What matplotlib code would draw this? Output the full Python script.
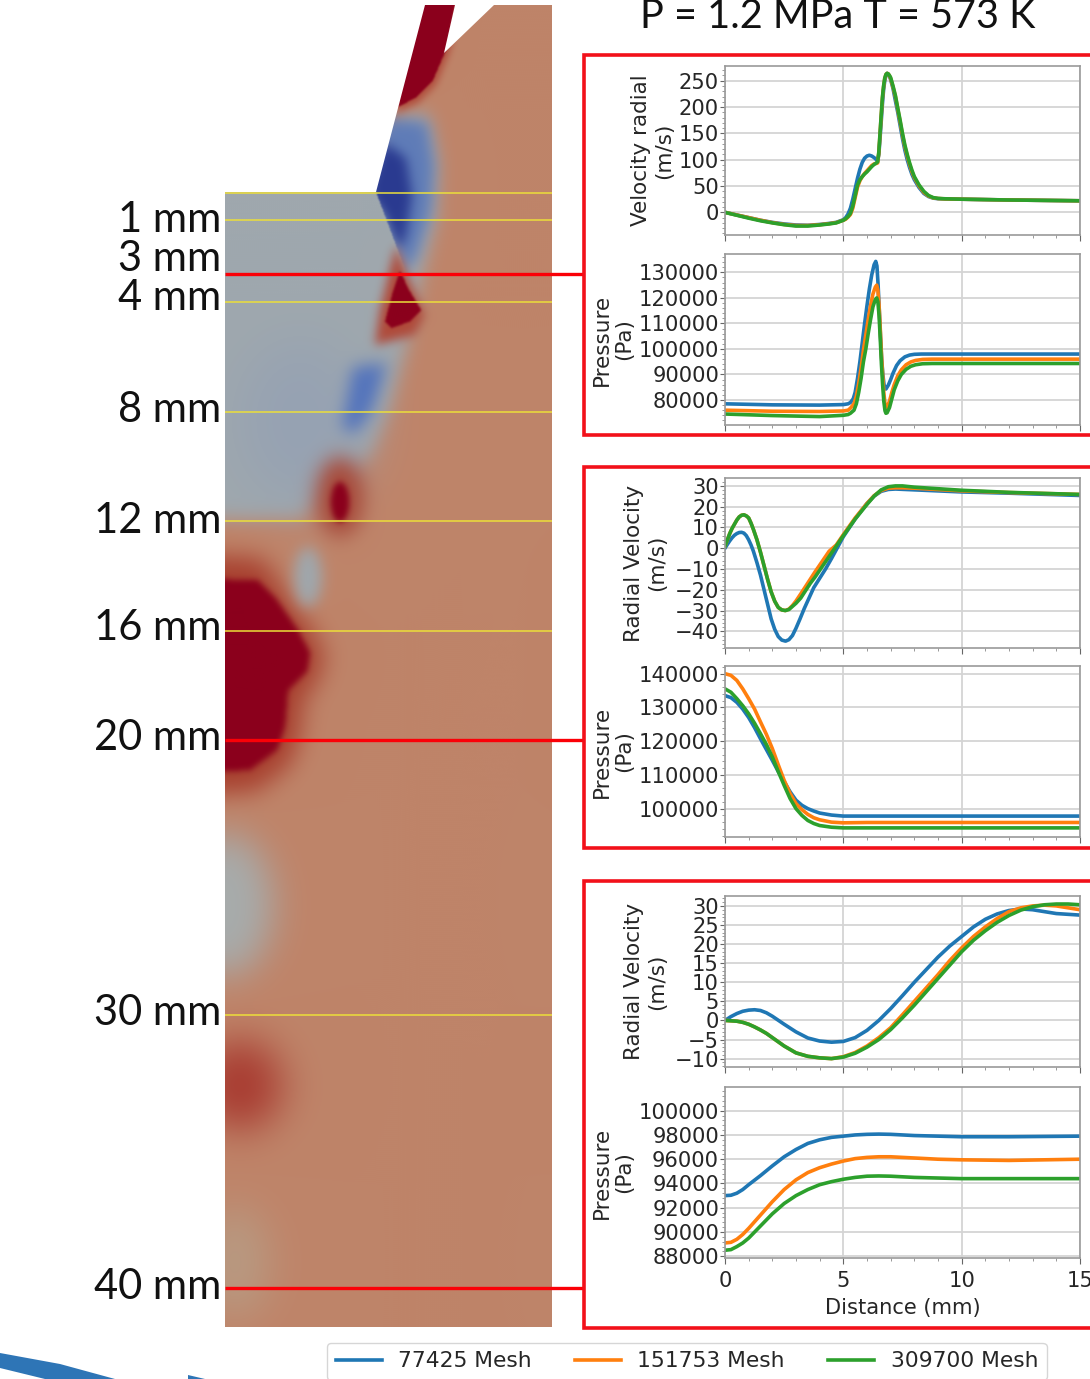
import numpy as np
import matplotlib
matplotlib.use('Agg')
import matplotlib.pyplot as plt
from matplotlib.path import Path
from matplotlib.patches import Polygon
from matplotlib.colors import to_rgb
from matplotlib.ticker import AutoMinorLocator, MultipleLocator

W, H = 1090, 1379
BLUE, ORANGE, GREEN = '#1f77b4', '#ff7f0e', '#2ca02c'
series_names = ['77425 Mesh', '151753 Mesh', '309700 Mesh']

# ---- panel 1: radial velocity, first section
v1_x = [0,0.5,1,1.5,2,2.5,3,3.5,4,4.4,4.7,5,5.1,5.2,5.3,5.4,5.5,5.6,5.7,5.8,5.9,6,6.1,6.2,6.3,6.4,6.45,6.5,6.55,6.6,6.65,6.7,6.75,6.8,6.85,6.9,6.95,7,7.1,7.2,7.3,7.4,7.5,7.6,7.7,7.8,7.9,8,8.2,8.4,8.6,8.8,9,9.3,10,12,15]
v1_y_blue = [0,-5,-10,-15,-19,-22,-24,-24.5,-23,-21,-19,-14,-10,-3,8,25,45,65,82,95,103,107,108.5,107,104,100,98,110,140,172,205,232,250,260,264,262,258,252,235,212,190,165,140,118,100,85,72,62,47,36,30,27,26,25.5,25,23.5,22]
v1_y_orange = [0,-5,-10,-15,-19.5,-23,-25,-25,-23.5,-21.5,-19.5,-15,-13,-9,-4,8,28,48,60,68,74,79,84,89,92,93,94,113,148,183,216,238,254,262,264,263,259,254,238,220,196,172,147,125,107,91,77,66,50,38,31,27.5,26.3,25.6,25,23.5,22]
v1_y_green = [0,-5.5,-11,-16,-20,-23.5,-26,-26,-24,-22,-20,-15,-12,-8,-2,12,32,52,62,68,73,77,82,87,91,94,96,115,150,185,218,240,255,262,264,263,260,256,240,222,198,175,150,128,110,94,80,68,52,40,32,28,26.5,25.8,25,23.5,22]

# ---- panel 2: pressure, first section
p1_x_blue = [0,2,4,5,5.2,5.3,5.42,5.5,5.6,5.7,5.8,5.9,6,6.1,6.2,6.3,6.37,6.42,6.47,6.52,6.57,6.62,6.67,6.72,6.76,6.8,6.9,7,7.1,7.25,7.4,7.6,7.8,8,8.3,8.7,10,15]
p1_y_blue = [78500,78100,78000,78200,78500,79000,80500,83000,88500,95000,102500,110000,117000,123500,129000,133000,134300,132500,125000,115000,105000,96000,90000,86000,84400,84300,85800,88000,90500,93500,95400,96900,97600,97900,98000,98000,98000,98000]
p1_x_other = [0,2,4,5,5.2,5.3,5.45,5.55,5.65,5.75,5.85,5.95,6.05,6.15,6.25,6.35,6.41,6.46,6.51,6.56,6.61,6.66,6.71,6.76,6.8,6.85,6.95,7.05,7.15,7.3,7.45,7.65,7.85,8.05,8.35,8.75,10,15]
p1_y_orange = [76000,75600,75500,75700,76000,76800,78500,81500,86500,92500,99500,105500,111500,117000,121500,124200,125000,123000,117000,108000,98000,90000,83000,78500,77000,77300,79500,83000,86000,89500,91800,93800,94900,95500,95900,96000,96000,96000]
p1_y_green = [74500,73900,73500,74000,74300,74800,76000,78500,83000,88500,95000,100000,106000,111500,116500,119300,120000,118500,113000,104000,94000,86000,79500,75800,74800,75000,77000,80500,84000,87500,90000,92000,93200,93800,94200,94300,94300,94300]

# ---- panel 3: radial velocity, 20 mm
v2_x_blue = [0,0.1,0.2,0.3,0.4,0.5,0.6,0.7,0.8,0.9,1,1.1,1.2,1.35,1.5,1.65,1.8,1.95,2.1,2.25,2.4,2.56,2.7,2.85,3,3.17,3.35,3.55,3.75,4,4.25,4.5,5,5.5,6,6.3,6.6,6.9,7.2,8,10,12,15]
v2_y_blue = [0,1.8,3.5,5,6.2,7,7.5,7.6,7.2,6,4,1.5,-1.5,-7,-13,-20,-27,-34,-39,-42.5,-44.2,-44.7,-44,-42,-38.5,-34,-29,-24,-19,-14.5,-10,-5,5.5,14,21.5,25,27.3,28.2,28.4,28,27,26.4,25.3]
v2_x_other = [0,0.1,0.2,0.3,0.4,0.5,0.6,0.7,0.8,0.9,1,1.1,1.2,1.35,1.5,1.65,1.8,1.95,2.1,2.25,2.4,2.55,2.7,2.85,3,3.2,3.4,3.6,3.8,4.1,4.4,4.7,5,5.5,6,6.3,6.6,6.9,7.2,7.5,8,10,12,15]
v2_y_orange = [1,4,7,9.5,11.5,13.5,15,15.8,16,15.5,14.5,12,9,4,-2,-8.5,-15,-21,-25.5,-28.5,-29.7,-30,-29.3,-27.6,-25.4,-22,-18.5,-15,-11.5,-6.5,-1.5,1.5,6.5,14.5,21.5,25.2,27.7,28.8,29,29,28.8,27.5,26.7,25.8]
v2_y_green = [1,4,7,9.5,11.5,13.5,15,15.8,16,15.5,14.5,12,9,4,-2,-8.5,-15,-21,-25.5,-28.5,-29.7,-30,-29.5,-28,-26.5,-24,-20.5,-17,-14,-9,-4,1,6,14,21,25,28,29.5,29.9,29.9,29.3,27.8,26.8,25.8]

# ---- panel 4: pressure, 20 mm
p2_x = [0,.25,.5,.75,1,1.25,1.5,1.75,2,2.25,2.5,2.75,3,3.25,3.5,3.75,4,4.5,5,6,15]
p2_y_blue = [133500,132900,131500,129500,127000,124000,120700,117500,114300,111000,108000,105000,102500,101000,100000,99300,98700,98100,97800,97800,97800]
p2_y_orange = [140000,139500,138000,135500,132600,129500,125700,122000,117800,113000,108400,104500,101500,99700,98300,97300,96700,96000,95800,95900,95900]
p2_y_green = [135500,134500,132600,130500,128100,125300,122200,119000,115300,111000,106900,103000,100000,98000,96500,95600,95000,94500,94300,94300,94300]

# ---- panel 5: radial velocity, 40 mm
v3_x = [0,.25,.5,.75,1,1.25,1.5,1.75,2,2.5,3,3.5,4,4.5,5,5.5,6,6.5,7,7.5,8,8.5,9,9.5,10,10.5,11,11.5,12,12.5,13,13.5,14,14.5,15]
v3_y_blue = [0,1,1.8,2.4,2.7,2.8,2.6,2,1.1,-1,-3,-4.6,-5.4,-5.7,-5.5,-4.5,-2.6,0,3.1,6.5,10,13.3,16.6,19.5,22,24.5,26.5,27.9,28.8,29.2,29,28.5,28,27.8,27.6]
v3_y_orange = [0,-0.1,-0.2,-0.5,-1,-1.7,-2.5,-3.4,-4.5,-6.7,-8.5,-9.4,-9.8,-10,-9.5,-8.4,-6.7,-4.5,-1.9,1.5,5,8.5,12,15.7,19,22,24.5,26.7,28.5,29.5,30,30.2,30,29.5,29]
v3_y_green = [0,-0.1,-0.2,-0.5,-1,-1.7,-2.5,-3.4,-4.5,-6.7,-8.5,-9.4,-9.8,-10,-9.6,-8.6,-7,-5,-2.4,0.7,4,7.5,11,14.5,18,21,23.5,25.7,27.5,28.9,29.8,30.3,30.5,30.5,30.3]

# ---- panel 6: pressure, 40 mm
p3_x = [0,.25,.5,.75,1,1.5,2,2.5,3,3.5,4,4.5,5,5.5,6,6.5,7,8,9,10,12,15]
p3_y_blue = [93000,93030,93200,93500,93900,94650,95450,96200,96800,97300,97600,97800,97900,98000,98050,98070,98050,97950,97900,97850,97850,97900]
p3_y_orange = [89100,89150,89400,89800,90300,91400,92500,93500,94300,94900,95300,95600,95850,96050,96150,96200,96200,96100,96000,95950,95900,96000]
p3_y_green = [88500,88550,88800,89100,89500,90500,91500,92350,93000,93500,93900,94150,94350,94500,94600,94620,94600,94500,94450,94400,94400,94400]

section_labels = ['1 mm','3 mm','4 mm','8 mm','12 mm','16 mm','20 mm','30 mm','40 mm']
section_label_y = [220,259,298,410,521,628,738,1013,1287]
yellow_y = [192.5,219.5,302,411.5,521,630.5,1014.5]
red_y = [274,739.5,1288]
red_boxes = [(55,435),(467,848),(881,1328)]


def ell(cx, cy, rx, ry):
    t = np.linspace(0, 2*np.pi, 60)
    return list(zip(cx + rx*np.cos(t), cy + ry*np.sin(t)))


# ---- field picture: colour regions, painted in order
TAN='#bf8469'; GREY='#9fa8ae'; GREY2='#96a2b3'; DBLUE='#2a3a90'; MBLUE='#5f7cb8'; LBLUE='#5273bd'
RED='#8b001c'; HALO='#b04a3a'; PALE='#a7acac'; DUSK='#a83a30'; SAND='#b89a82'
big_red = [(150,578),(257,580),(277,600),(298,630),(310,653),(307,672),(288,690),(285,727),(277,750),(250,770),(150,775)]
big_halo = [(150,552),(262,558),(290,600),(312,630),(325,655),(318,680),(303,700),(300,735),(290,765),(255,792),(150,797)]
field_layers = [
    ([(150,192),(376,192),(395,118),(428,112),(438,160),(437,215),(421,280),(406,350),(389,410),(372,450),(345,480),(320,500),(300,518),(150,520)], GREY, 9),
    (ell(300,420,60,80), GREY2, 28),
    ([(370,192),(385,118),(427,122),(434,165),(431,210),(416,258),(405,272),(376,192)], MBLUE, 7),
    ([(368,192),(384,142),(406,158),(412,195),(406,235),(400,250),(385,215)], DBLUE, 5.5),
    ([(150,192),(376,192),(406,272),(396,300),(150,300)], GREY, 0.8),
    ([(396,245),(402,262),(407,275),(425,315),(415,335),(375,345),(380,310)], HALO, 5),
    ([(400,271),(409,290),(421,310),(411,321),(392,328),(385,322),(392,295)], RED, 1.2),
    ([(353,367),(387,363),(372,410),(355,433),(342,428)], LBLUE, 8),
    (ell(340,497,24,40), '#a84a3a', 10),
    (ell(340,502,9,20), RED, 3),
    (big_halo, '#a8402f', 12),
    (big_red, RED, 3),
    (ell(308,577,14,30), GREY, 7),
    (ell(225,905,48,72), PALE, 18),
    (ell(240,1085,42,45), DUSK, 20),
    (ell(235,1262,34,56), SAND, 20),
    ([(420,-20),(460,-20),(450,50),(436,84),(417,103),(396,112)], HALO, 4),
    ([(420,-20),(460,-20),(446,50),(433,80),(415,98),(398,107)], RED, 1.0),
]
domain_outline = [(225,1327),(552,1327),(552,5),(494,5),(444,53),(455,5),(425,5),(376,192),(225,192)]
swoosh = [(0,1353),(60,1364),(115,1379),(45,1379),(0,1368)]
swoosh_tip = [(188,1375),(205,1379),(188,1379)]


def build_field():
    xs = np.arange(165, 613) + .5
    ys = np.arange(-55, 1388) + .5
    gx, gy = np.meshgrid(xs, ys)
    pts = np.c_[gx.ravel(), gy.ravel()]
    fx = np.fft.rfftfreq(len(xs))
    fy = np.fft.fftfreq(len(ys))
    img = np.ones(gx.shape + (3,)) * np.array(to_rgb(TAN))
    for verts, color, sig in field_layers:
        m = Path(np.array(verts)).contains_points(pts).reshape(gx.shape).astype(float)
        kern = np.exp(-2*np.pi**2*sig**2*(fy[:, None]**2 + fx[None, :]**2))
        m = np.clip(np.fft.irfft2(np.fft.rfft2(m)*kern, s=m.shape), 0, 1)
        for c in range(3):
            img[..., c] = img[..., c]*(1-m) + to_rgb(color)[c]*m
    return img, (165, 613, 1388, -55)


fig = plt.figure(figsize=(W/100, H/100), dpi=100)
bg = fig.add_axes([0, 0, 1, 1], zorder=0)
img, ext = build_field()
im = bg.imshow(img, extent=ext, interpolation='bilinear', aspect='auto')
clip = Polygon(domain_outline, closed=True, transform=bg.transData, fc='none', ec='none')
bg.add_patch(clip)
im.set_clip_path(clip)
bg.set_xlim(0, W)
bg.set_ylim(H, 0)
bg.axis('off')

for y in yellow_y:
    bg.plot([225, 552], [y, y], color='#ecdf3a', lw=1.1, solid_capstyle='butt')
for y in red_y:
    bg.plot([225, 584], [y, y], color='#fb0007', lw=2.4, solid_capstyle='butt')
for top, bot in red_boxes:
    bg.plot([W+5, 584, 584, W+5], [top, top, bot, bot], color='#f2101a', lw=2.6, solid_joinstyle='miter')
bg.add_patch(Polygon(swoosh, closed=True, fc='#2e75b6', ec='none'))
bg.add_patch(Polygon(swoosh_tip, closed=True, fc='#2e75b6', ec='none'))

CAL = ['Lato', 'DejaVu Sans']
for t, y in zip(section_labels, section_label_y):
    bg.text(221, y, t, ha='right', va='center', fontsize=30, family=CAL, color='#111111')
bg.text(838, 16, 'P = 1.2 MPa T = 573 K', ha='center', va='center', fontsize=28.5, family=CAL, color='#111111')

TXT = '#262626'


def panel(top, bot, ylim, ymajor, ylabel, lab_x, curves, bottom=False):
    ax = fig.add_axes([725/W, 1-bot/H, 355/W, (bot-top)/H], zorder=2)
    for (x, y), col, name in zip(curves, [BLUE, ORANGE, GREEN], series_names):
        ax.plot(x, y, color=col, lw=2.6, label=name, solid_joinstyle='round')
    ax.set_xlim(0, 15)
    ax.set_ylim(*ylim)
    ax.xaxis.set_major_locator(MultipleLocator(5))
    ax.xaxis.set_minor_locator(MultipleLocator(1))
    ax.yaxis.set_major_locator(MultipleLocator(ymajor))
    ax.yaxis.set_minor_locator(AutoMinorLocator(5))
    ax.grid(True, which='major', color='#d4d4d4', lw=1.3)
    ax.set_axisbelow(True)
    for s in ax.spines.values():
        s.set_color('#9a9a9a')
        s.set_linewidth(1.2)
    ax.tick_params(axis='y', which='major', labelsize=15.1, length=3.5, color='#666666', labelcolor=TXT, pad=0.8)
    ax.tick_params(axis='x', which='major', labelsize=15.1, length=4, color='#666666', labelcolor=TXT, pad=5.5)
    ax.tick_params(axis='both', which='minor', length=2, color='#888888')
    if not bottom:
        ax.tick_params(axis='x', labelbottom=False)
    else:
        ax.set_xlabel('Distance (mm)', fontsize=15.1, color=TXT, labelpad=5)
    ax.set_ylabel(ylabel, fontsize=15.5, color=TXT, va='center', ha='center', multialignment='center', linespacing=1.2)
    ax.yaxis.set_label_coords((lab_x-725)/355, .5)
    return ax


panel(66, 235, (-43, 278), 50, 'Velocity radial\n(m/s)', 653,
      [(v1_x, v1_y_blue), (v1_x, v1_y_orange), (v1_x, v1_y_green)])
panel(254, 425, (70200, 137200), 10000, 'Pressure\n(Pa)', 613,
      [(p1_x_blue, p1_y_blue), (p1_x_other, p1_y_orange), (p1_x_other, p1_y_green)])
panel(478, 648, (-48, 33.7), 10, 'Radial Velocity\n(m/s)', 646,
      [(v2_x_blue, v2_y_blue), (v2_x_other, v2_y_orange), (v2_x_other, v2_y_green)])
panel(666, 837, (91600, 142270), 10000, 'Pressure\n(Pa)', 613,
      [(p2_x, p2_y_blue), (p2_x, p2_y_orange), (p2_x, p2_y_green)])
panel(896, 1067, (-12.2, 32.6), 5, 'Radial Velocity\n(m/s)', 646,
      [(v3_x, v3_y_blue), (v3_x, v3_y_orange), (v3_x, v3_y_green)])
ax6 = panel(1087, 1258, (87860, 101950), 2000, 'Pressure\n(Pa)', 613,
      [(p3_x, p3_y_blue), (p3_x, p3_y_orange), (p3_x, p3_y_green)], bottom=True)

h, l = ax6.get_legend_handles_labels()
fig.legend(h, l, ncol=3, fontsize=15.7, loc='lower left',
           bbox_to_anchor=(327/W, (H-1380)/H), borderaxespad=0, edgecolor='#cccccc',
           labelcolor=TXT, columnspacing=2.0, handlelength=2.1, handletextpad=0.75)

fig.savefig('out.png', dpi=100)
